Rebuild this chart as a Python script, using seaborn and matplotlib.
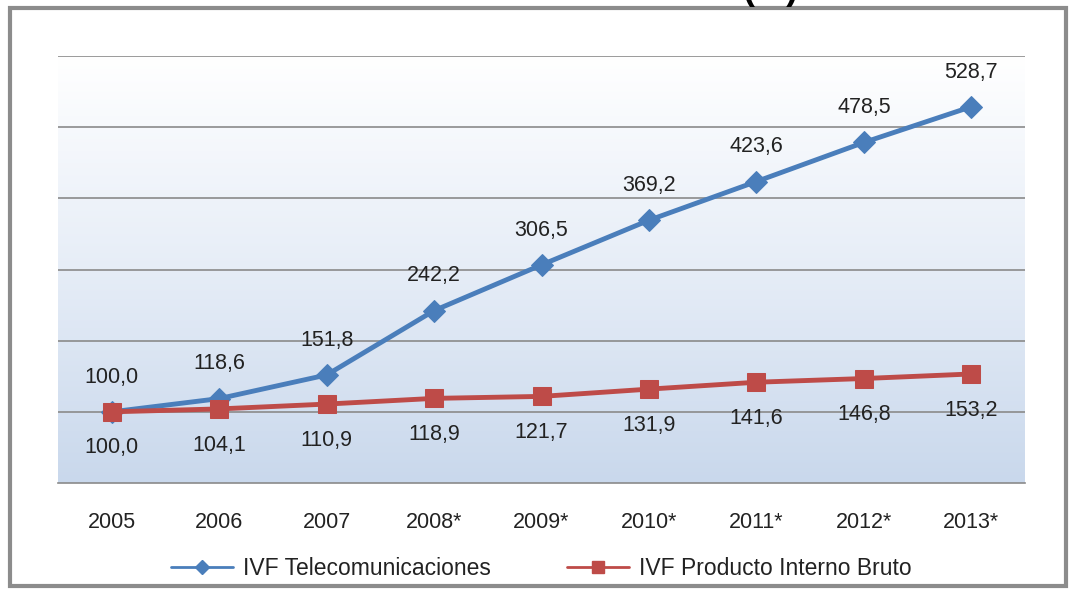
import numpy as np
import pandas as pd
import matplotlib.pyplot as plt
import seaborn as sns
from matplotlib.patches import Rectangle
from matplotlib.lines import Line2D
from matplotlib.colors import LinearSegmentedColormap

# data
years = ["2005", "2006", "2007", "2008*", "2009*", "2010*", "2011*", "2012*", "2013*"]
telecom = [100.0, 118.6, 151.8, 242.2, 306.5, 369.2, 423.6, 478.5, 528.7]
pib = [100.0, 104.1, 110.9, 118.9, 121.7, 131.9, 141.6, 146.8, 153.2]
series_names = ["IVF Telecomunicaciones", "IVF Producto Interno Bruto"]

blue = "#4a7ebb"
red = "#be4b48"

sns.set_style("white")
plt.rcParams["font.family"] = ["Liberation Sans", "DejaVu Sans"]

df = pd.DataFrame({"idx": range(len(years)), "tel": telecom, "pib": pib})

fig = plt.figure(figsize=(10.76, 5.96), dpi=100)
ax = fig.add_axes([58 / 1076, 1 - 483 / 596, 967 / 1076, 427 / 596])

# outer frame
fig.patches.append(Rectangle((10 / 1076, 1 - 586 / 596), 1056 / 1076, 578 / 596,
                             transform=fig.transFigure, fill=False,
                             edgecolor="#8c8c8c", linewidth=3, zorder=0))
# title is cut off at the top edge in the original
fig.text(770 / 1076, 1 - 7 / 596, "(%)", ha="center", va="bottom",
         fontsize=26, fontweight="bold", color="black")

# gradient background
cmap = LinearSegmentedColormap.from_list("bg", ["#ffffff", "#e6edf7", "#c9d8ec"])
grad = np.linspace(0, 1, 256).reshape(-1, 1)
ax.imshow(grad, extent=[0, 1, 0, 1], transform=ax.transAxes, aspect="auto",
          cmap=cmap, zorder=0, origin="upper")

ax.set_xlim(-0.5, len(years) - 0.5)
ax.set_ylim(0, 600)

for g in range(100, 601, 100):
    ax.axhline(g, color="#8a8a8a", linewidth=1.2, zorder=1)

sns.lineplot(data=df, x="idx", y="tel", ax=ax, color=blue, linewidth=3.5,
             marker="D", markersize=11, markeredgecolor=blue, zorder=3)
sns.lineplot(data=df, x="idx", y="pib", ax=ax, color=red, linewidth=3.5,
             marker="s", markersize=13, markeredgecolor=red, zorder=4)

for i, v in enumerate(telecom):
    ax.annotate(f"{v:.1f}".replace(".", ","), (i, v), xytext=(0, 25),
                textcoords="offset points", ha="center", va="center",
                fontsize=15.5, color="#222222")
for i, v in enumerate(pib):
    ax.annotate(f"{v:.1f}".replace(".", ","), (i, v), xytext=(0, -26),
                textcoords="offset points", ha="center", va="center",
                fontsize=15.5, color="#222222")

ax.set_yticks([])
ax.set_xticks(np.arange(-0.5, len(years)), minor=False)
ax.set_xticklabels([])
ax.set_xticks(range(len(years)), minor=True)
ax.set_xticklabels(years, minor=True, fontsize=15.5, color="#222222")
ax.tick_params(axis="x", which="major", length=7, color="#8a8a8a", width=1.2, direction="out")
ax.tick_params(axis="x", which="minor", length=0, pad=21)
ax.set_xlabel("")
ax.set_ylabel("")
for s in ["top", "right", "left"]:
    ax.spines[s].set_visible(False)
ax.spines["bottom"].set_color("#8a8a8a")
ax.spines["bottom"].set_linewidth(1.2)

handles = [
    Line2D([], [], color=blue, linewidth=2, marker="D", markersize=7),
    Line2D([], [], color=red, linewidth=2, marker="s", markersize=8),
]
ax.legend(handles, series_names, loc="upper center", bbox_to_anchor=(0.5, -0.125),
          ncol=2, frameon=False, fontsize=16.5, handlelength=2.7, columnspacing=3.3,
          handletextpad=0.45, labelcolor="#222222")

fig.savefig("out.png", dpi=100)
